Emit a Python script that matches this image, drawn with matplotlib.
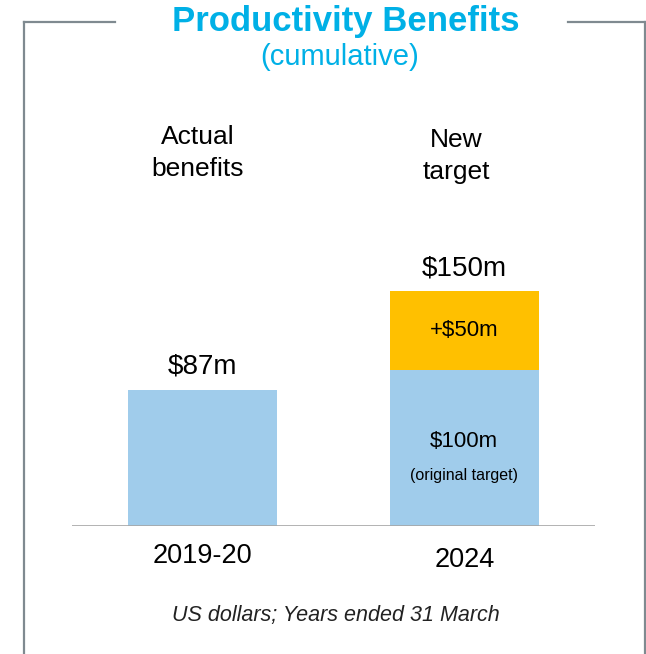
import matplotlib
matplotlib.use("Agg")
import matplotlib.pyplot as plt
from matplotlib.lines import Line2D

categories = ["2019-20", "2024"]
headers = ["Actual\nbenefits", "New\ntarget"]
base_values = [87, 100]
extra_values = [0, 50]
total_labels = ["$87m", "$150m"]
extra_label = "+$50m"
base_label_2024 = "$100m"
base_note_2024 = "(original target)"

W, H = 646, 654
fig = plt.figure(figsize=(W / 100, H / 100), dpi=100)
plt.rcParams['font.family'] = ['Liberation Sans', 'DejaVu Sans']

def fx(px):
    return px / W

def fy(py):
    return 1 - py / H

BLUE = "#A0CCEB"
ORANGE = "#FFC000"
TITLE = "#00B0E6"
GRAY = "#7F8A90"

# axes: baseline at y=526 px, x from 72 to 595 px
ax_left, ax_right = 72, 595
ax_bottom, ax_top = 526, 60
ax = fig.add_axes([fx(ax_left), fy(ax_bottom), (ax_right - ax_left) / W, (ax_bottom - ax_top) / H])
px_per_unit = 1.565
ax.set_xlim(-0.5, 1.5)
ax.set_ylim(0, (ax_bottom - ax_top) / px_per_unit)
ax.axis("off")

x = list(range(len(categories)))
bw = 0.57
ax.bar(x, base_values, width=bw, color=BLUE, zorder=2)
ax.bar(x, extra_values, width=bw, bottom=base_values, color=ORANGE, zorder=2)
ax.axhline(0, color="#A6A6A6", lw=1.2, zorder=3)

totals = [b + e for b, e in zip(base_values, extra_values)]
for xi, t, lab in zip(x, totals, total_labels):
    ax.text(xi, t + 6.5, lab, ha="center", va="bottom", fontsize=20, color="black")

ax.text(1, base_values[1] + extra_values[1] / 2, extra_label, ha="center", va="center",
        fontsize=16, color="black")
ax.text(1, 54, base_label_2024, ha="center", va="center", fontsize=16, color="black")
ax.text(1, 32, base_note_2024, ha="center", va="center", fontsize=11.5, color="black")

# category labels
ax.text(0, -19, categories[0], ha="center", va="center", fontsize=19.5, color="black")
ax.text(1, -22, categories[1], ha="center", va="center", fontsize=19.5, color="black")

# headers
fig.text(fx(198), fy(153), headers[0], ha="center", va="center", fontsize=19,
         linespacing=1.45)
fig.text(fx(456), fy(156), headers[1], ha="center", va="center", fontsize=19,
         linespacing=1.45)

# title
fig.text(fx(346), fy(22), "Productivity Benefits", ha="center", va="center",
         fontsize=25, fontweight="bold", color=TITLE)
fig.text(fx(340), fy(57), "(cumulative)", ha="center", va="center",
         fontsize=21, color=TITLE)

# caption
fig.text(fx(336), fy(615), "US dollars; Years ended 31 March", ha="center", va="center",
         fontsize=15.5, style="italic", color="#222222")

# frame
lw = 1.6
for xs, ys in [([24, 24], [22, 660]), ([24, 115], [22, 22]),
               ([568, 645], [22, 22]), ([645, 645], [22, 660])]:
    fig.add_artist(Line2D([fx(v) for v in xs], [fy(v) for v in ys], color=GRAY, lw=lw))

fig.savefig("out.png", dpi=100)
